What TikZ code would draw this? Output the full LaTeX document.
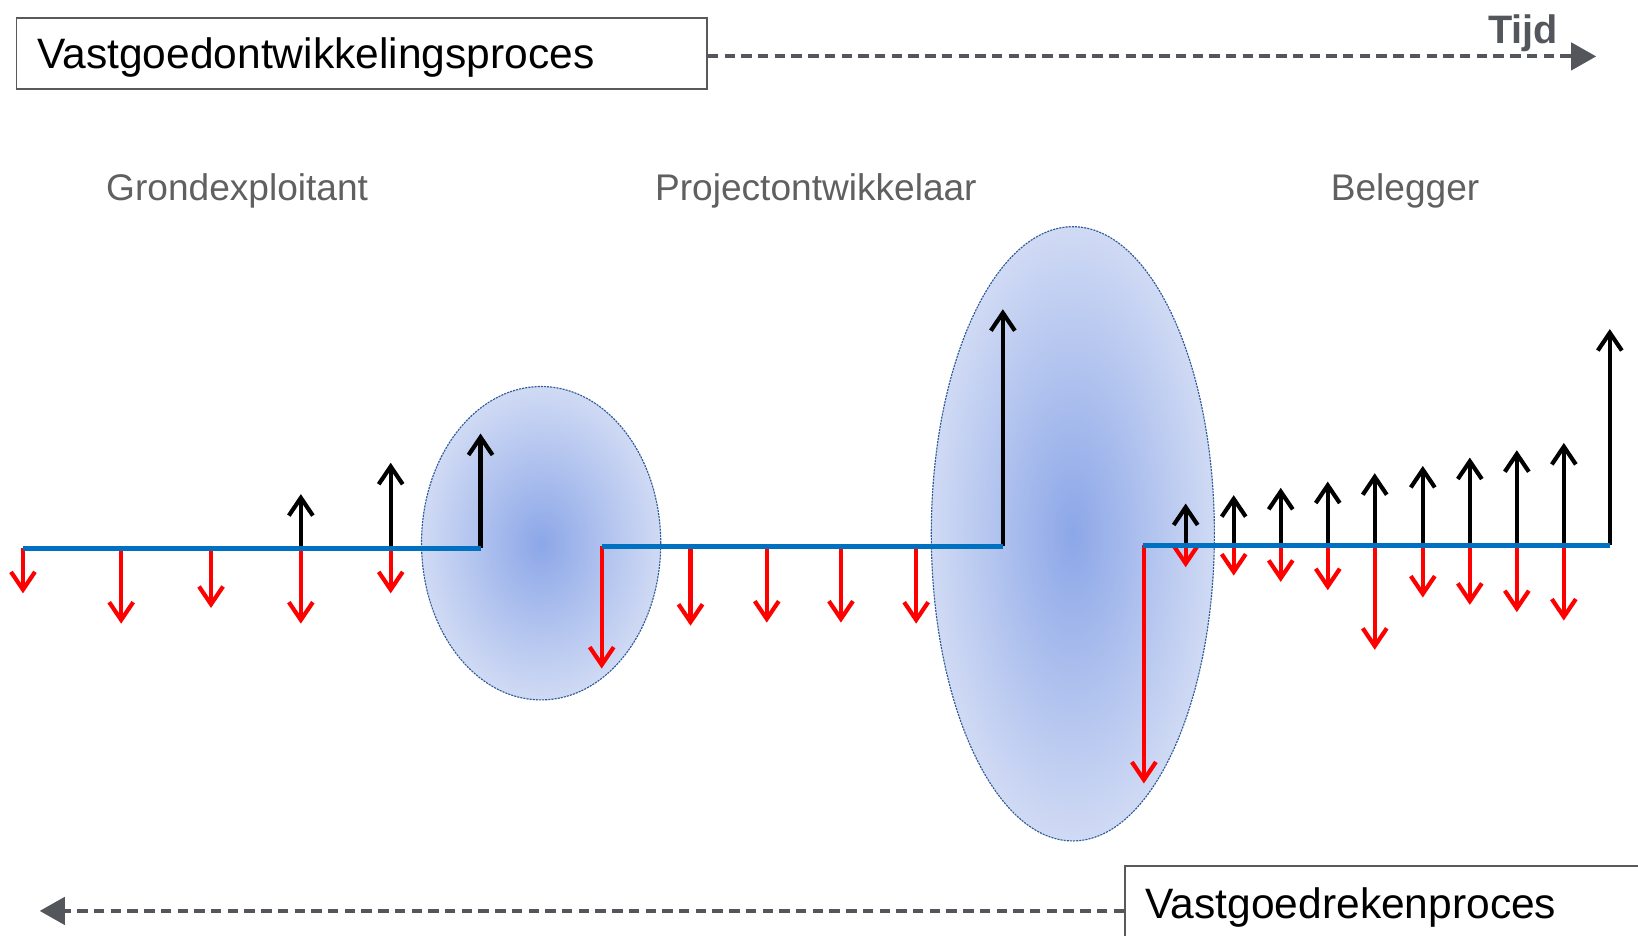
\documentclass[tikz,border=0pt]{standalone}
\usepackage{fontspec}
\setmainfont{Liberation Sans}
\usetikzlibrary{arrows.meta, shapes.geometric}
\definecolor{grijs}{HTML}{53565A}
\definecolor{tekstgrijs}{HTML}{606060}
\definecolor{kaderlijn}{HTML}{595959}
\definecolor{as}{HTML}{0070C0}
\definecolor{binnen}{HTML}{8CA7E8}
\definecolor{buiten}{HTML}{D0DAF4}
\definecolor{rand}{HTML}{2E5C9A}
\begin{document}
\begin{tikzpicture}[x=1pt, y=-1pt,
    kader/.style={draw=kaderlijn, line width=1.6pt, inner xsep=20pt, minimum height=68pt, align=left, text depth=0pt, font=\fontsize{40.7}{48}\selectfont},
    rol/.style={text=tekstgrijs, font=\fontsize{35.5}{42}\selectfont},
    tijdpijl/.style={draw=grijs, line width=3.8pt, dash pattern=on 10pt off 6pt, -{Triangle[length=24pt, width=26pt]}},
    ovaal/.style={ellipse, draw=rand, line width=1.1pt, dash pattern=on 2pt off 1pt, inner sep=0pt, shading=radial, inner color=binnen, outer color=buiten},
    lijn/.style={draw=as, line width=4.4pt},
    inpijl/.style={draw=black, line width=4pt, -{Straight Barb[length=17pt, width=23pt]}},
    uitpijl/.style={draw=red, line width=4pt, -{Straight Barb[length=17pt, width=23pt]}}]
    \useasboundingbox (0,0) rectangle (1568,896);

    % kaders en tijdlijnen
    \node[kader, text width=621pt, anchor=west] (titel) at (15,51) {Vastgoedontwikkelingsproces};
    \node[kader, text width=560pt, minimum height=71pt, anchor=west] (reken) at (1076,864.5) {Vastgoedrekenproces};
    \coordinate (tijdeind) at (1528,54);
    \coordinate (rekeneind) at (38,872);
    \draw[tijdpijl] ([yshift=-3pt]titel.east) -- (tijdeind);
    \draw[tijdpijl] ([yshift=-7.5pt]reken.west) -- (rekeneind);
    \node[text=grijs, font=\bfseries\fontsize{38}{44}\selectfont] (tijd) at (1458,31.5) {Tijd};

    % partijen
    \node[rol] (grond) at (227,183) {Grondexploitant};
    \node[rol] (project) at (781,183) {Projectontwikkelaar};
    \node[rol] (belegger) at (1345,183) {Belegger};

    % overdrachtsmomenten
    \node[ovaal, minimum width=229pt, minimum height=300pt] (ovaal1) at (518,520) {};
    \node[ovaal, minimum width=271pt, minimum height=588pt] (ovaal2) at (1027,511) {};

    % kasstromen
    \foreach \x/\y in {22/568, 116/597, 202/582, 288/597, 374/568}
        \draw[uitpijl] (\x,525) -- (\x,\y);
    \foreach \x/\y in {288/473, 374/443, 460/415}
        \draw[inpijl] (\x,525) -- (\x,\y);
    \foreach \x/\y in {576/640, 661/599, 734/596, 805/596, 877/597}
        \draw[uitpijl] (\x,523) -- (\x,\y);
    \draw[inpijl] (960,523) -- (960,296);
    \foreach \x/\y in {1095/750, 1135/543, 1181/551, 1226/557, 1271/565, 1316/622, 1362/572, 1407/579, 1452/586, 1497/594}
        \draw[uitpijl] (\x,522) -- (\x,\y);
    \foreach \x/\y in {1135/482, 1181/474, 1226/467, 1271/461, 1316/453, 1362/446, 1407/438, 1452/431, 1497/424, 1541/315}
        \draw[inpijl] (\x,522) -- (\x,\y);

    % tijdas per partij
    \draw[lijn] (22,525) -- (460,525);
    \draw[lijn] (576,523) -- (960,523);
    \draw[lijn] (1094,522) -- (1541,522);
\end{tikzpicture}
\end{document}
